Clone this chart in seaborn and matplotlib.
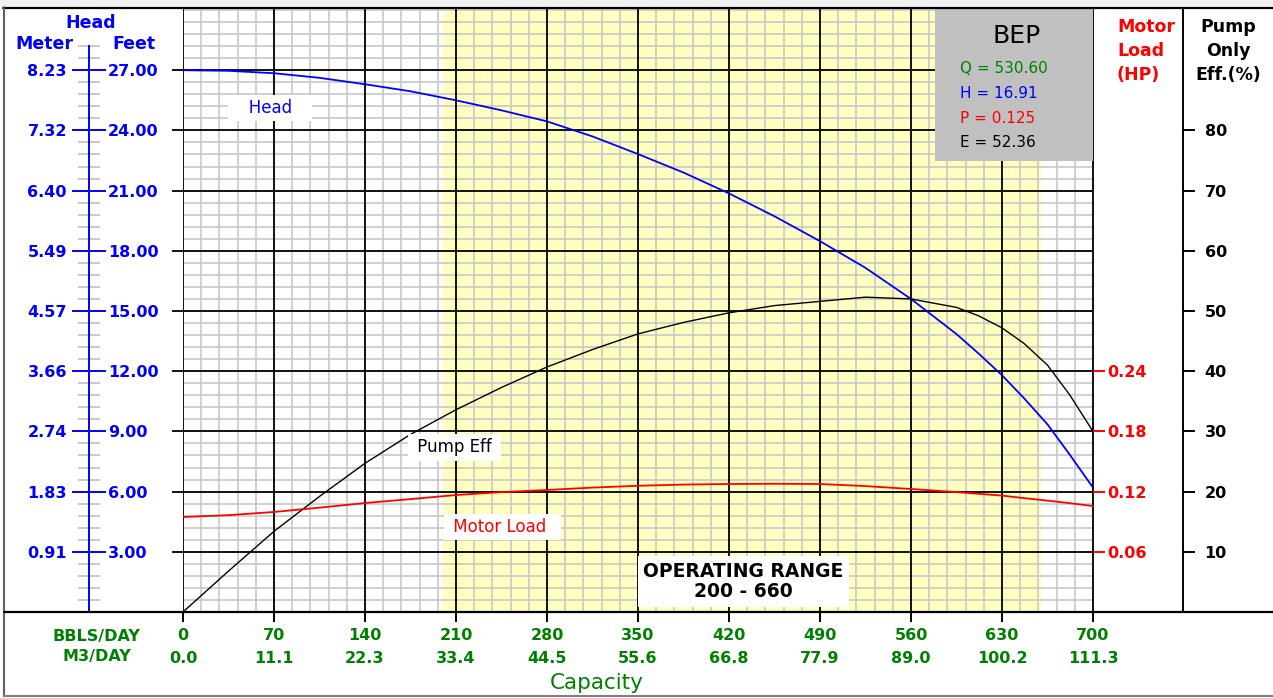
import numpy as np
import matplotlib
matplotlib.use("Agg")
import matplotlib.pyplot as plt
import seaborn as sns
from matplotlib.lines import Line2D
from matplotlib.patches import Rectangle

# ---- pump performance data -------------------------------------------------
capacity_bbl = [0, 35, 70, 105, 140, 175, 210, 245, 280, 315, 350,
                385, 420, 455, 490, 525, 560, 595, 612, 630, 647, 665, 682, 700]
head_ft = [27.0, 26.97, 26.85, 26.62, 26.3, 25.95, 25.5, 25.0, 24.45, 23.7, 22.82,
           21.9, 20.86, 19.72, 18.48, 17.15, 15.6, 13.85, 12.88, 11.8, 10.65, 9.35, 7.85, 6.2]
pump_eff_pct = [0.0, 6.8, 13.4, 19.2, 24.7, 29.5, 33.6, 37.3, 40.7, 43.6, 46.2,
                48.1, 49.7, 50.9, 51.6, 52.3, 52.0, 50.6, 49.2, 47.2, 44.6, 41.0, 36.1, 30.0]
motor_load_hp = [0.0947, 0.0965, 0.0997, 0.104, 0.1086, 0.1125, 0.1166, 0.1195,
                 0.1216, 0.124, 0.1258, 0.127, 0.1276, 0.1278, 0.1276, 0.1255,
                 0.1226, 0.1195, 0.1178, 0.116, 0.1135, 0.111, 0.1085, 0.1056]

# ---- axis ticks and labels -------------------------------------------------
bbl_ticks = [0, 70, 140, 210, 280, 350, 420, 490, 560, 630, 700]
m3_labels = ["0.0", "11.1", "22.3", "33.4", "44.5", "55.6",
             "66.8", "77.9", "89.0", "100.2", "111.3"]
feet_ticks = [3, 6, 9, 12, 15, 18, 21, 24, 27]
feet_labels = ["3.00", "6.00", "9.00", "12.00", "15.00", "18.00", "21.00", "24.00", "27.00"]
meter_labels = ["0.91", "1.83", "2.74", "3.66", "4.57", "5.49", "6.40", "7.32", "8.23"]
load_ticks = [0.06, 0.12, 0.18, 0.24]
load_labels = ["0.06", "0.12", "0.18", "0.24"]
eff_ticks = [10, 20, 30, 40, 50, 60, 70, 80]

# ---- operating range and best efficiency point -----------------------------
range_low, range_high = 200, 660
bep_q, bep_h, bep_p, bep_e = 530.60, 16.91, 0.125, 52.36

# ---- styling ---------------------------------------------------------------
sns.set_theme(style="white")
plt.rcParams["font.family"] = ["DejaVu Sans"]

BLUE, RED, GREEN, BLACK = "#0000ff", "#ff0000", "#008000", "#000000"
MINOR_GRID, MAJOR_GRID = "#c8c8c8", "#111111"

W, H = 1273, 698
fig = plt.figure(figsize=(W / 100, H / 100), dpi=100)
fig.patch.set_facecolor("white")


def fx(px):
    return px / W


def fy(py):
    return 1 - py / H


# plot frame: 0..~769 bbl/day horizontally, 0..30.1 ft vertically
Q_MAX = 1000 / 1.3
FT_MAX = 30.1
ax = fig.add_axes([fx(183), fy(612), 1000 / W, 604 / H])
ax.set_xlim(0, Q_MAX)
ax.set_ylim(0, FT_MAX)
ax.set_facecolor("white")

# operating range band
ax.axvspan(range_low, range_high, color="#ffffc0", lw=0, zorder=0.5)

# grid: light minor lines, dark major lines
q_last = bbl_ticks[-1]
minor_q = np.arange(0, q_last + 1, 14)
minor_ft = np.round(np.arange(0.6, FT_MAX, 0.6), 1)
ax.vlines(minor_q, 0, FT_MAX, colors=MINOR_GRID, lw=1.2, zorder=1)
ax.hlines(minor_ft, 0, q_last, colors=MINOR_GRID, lw=1.2, zorder=1)
ax.vlines(bbl_ticks, 0, FT_MAX, colors=MAJOR_GRID, lw=1.4, zorder=2)
ax.hlines(feet_ticks, -8.5, q_last, colors=MAJOR_GRID, lw=1.4, zorder=2, clip_on=False)

# BEP panel
ax.add_patch(Rectangle((578.5, 22.5), q_last - 578.5, FT_MAX - 22.5,
                       fc="#c0c0c0", ec="none", zorder=3))
ax.text(641.5, 28.7, "BEP", ha="center", va="center", fontsize=18, color=BLACK, zorder=4)
ax.text(597.7, 27.1, f"Q = {bep_q:.2f}", ha="left", va="center", fontsize=11, color=GREEN, zorder=4)
ax.text(597.7, 25.86, f"H = {bep_h:.2f}", ha="left", va="center", fontsize=11, color=BLUE, zorder=4)
ax.text(597.7, 24.61, f"P = {bep_p:.3f}", ha="left", va="center", fontsize=11, color=RED, zorder=4)
ax.text(597.7, 23.42, f"E = {bep_e:.2f}", ha="left", va="center", fontsize=11, color=BLACK, zorder=4)

# head curve (feet)
sns.lineplot(x=capacity_bbl, y=head_ft, ax=ax, color=BLUE, lw=1.3, zorder=5)

# head axis: meters on the left of the spine, feet on the right
for side in ("top", "right", "bottom"):
    ax.spines[side].set_visible(False)
ax.spines["left"].set_position(("axes", -0.094))
ax.spines["left"].set_bounds(0, 28.2)
ax.spines["left"].set_color(BLUE)
ax.spines["left"].set_linewidth(1.4)
ax.set_yticks(feet_ticks)
ax.set_yticklabels(meter_labels, fontweight="bold", fontsize=11.5)
head_minor = [round(0.6 * i, 1) for i in range(1, 48) if i % 5]
ax.set_yticks(head_minor, minor=True)
ax.tick_params(axis="y", which="major", direction="inout", length=24.5, width=1.4,
               color=BLUE, labelcolor=BLUE, pad=3.6, left=True)
ax.tick_params(axis="y", which="minor", direction="inout", length=15.8, width=1.2,
               color="#c0c0c0", left=True)
for v, lab in zip(feet_ticks, feet_labels):
    ax.text(-0.075, v, lab, transform=ax.get_yaxis_transform(), ha="left",
            va="center_baseline", color=BLUE, fontweight="bold", fontsize=11.5)

# capacity axis
ax.set_xticks(bbl_ticks)
ax.set_xticklabels([str(q) for q in bbl_ticks], fontweight="bold", fontsize=11.5)
ax.tick_params(axis="x", direction="out", length=7.2, width=1.4, color=BLACK,
               labelcolor=GREEN, pad=4.5, bottom=True)
for q, lab in zip(bbl_ticks, m3_labels):
    ax.text(q, -0.0745, lab, transform=ax.get_xaxis_transform(), ha="center",
            va="center_baseline", color=GREEN, fontweight="bold", fontsize=11.5)
ax.set_xlabel("")
ax.set_ylabel("")

# pump efficiency (%) on its own scale
ax_eff = ax.twinx()
ax_eff.set_ylim(0, FT_MAX * 10 / 3)
sns.lineplot(x=capacity_bbl, y=pump_eff_pct, ax=ax_eff, color=BLACK, lw=1.0)
for side in ("top", "left", "bottom"):
    ax_eff.spines[side].set_visible(False)
ax_eff.spines["right"].set_color(BLACK)
ax_eff.spines["right"].set_linewidth(1.4)
ax_eff.set_yticks(eff_ticks)
ax_eff.set_yticklabels([str(e) for e in eff_ticks], fontweight="bold", fontsize=11.5)
ax_eff.tick_params(axis="y", direction="out", length=8.6, width=1.4, color=BLACK,
                   labelcolor=BLACK, pad=7, right=True)
ax_eff.set_ylabel("")
ax_eff.set_xlabel("")

# motor load (HP) on its own scale
ax_load = ax.twinx()
ax_load.set_ylim(0, FT_MAX * 0.02)
sns.lineplot(x=capacity_bbl, y=motor_load_hp, ax=ax_load, color=RED, lw=1.3)
for side in ("top", "left", "bottom", "right"):
    ax_load.spines[side].set_visible(False)
ax_load.spines["right"].set_position(("axes", q_last / Q_MAX))
ax_load.set_yticks(load_ticks)
ax_load.set_yticklabels(load_labels, fontweight="bold", fontsize=11.5)
ax_load.tick_params(axis="y", direction="out", length=8.6, width=1.4, color=RED,
                    labelcolor=RED, pad=1.4, right=True)
ax_load.set_ylabel("")
ax_load.set_xlabel("")

# curve labels
box = dict(boxstyle="square,pad=0.25", fc="white", ec="none")
ax_load.text(67, 25.1, "   Head   ", transform=ax.transData, ha="center", va="center",
             fontsize=12, color=BLUE, bbox=box, zorder=10)
ax_load.text(209, 8.2, " Pump Eff ", transform=ax.transData, ha="center", va="center",
             fontsize=12, color=BLACK, bbox=box, zorder=10)
ax_load.text(246, 4.24, " Motor Load  ", transform=ax.transData, ha="center", va="center",
             fontsize=12, color=RED, bbox=box, zorder=10)
ax_load.text((range_low + range_high) / 2 + 1, 1.52,
             f"OPERATING RANGE\n{range_low} - {range_high}", transform=ax.transData,
             ha="center", va="center", fontsize=13.5, fontweight="bold", color=BLACK,
             linespacing=1.1, bbox=dict(boxstyle="square,pad=0.3", fc="white", ec="none"),
             zorder=10)

# axis titles
fig.text(fx(91), fy(23), "Head", ha="center", va="center", color=BLUE, fontweight="bold", fontsize=12.5)
fig.text(fx(44), fy(44), "Meter", ha="center", va="center", color=BLUE, fontweight="bold", fontsize=12.5)
fig.text(fx(134), fy(44), "Feet", ha="center", va="center", color=BLUE, fontweight="bold", fontsize=12.5)
for y, t in zip((27, 51, 75), ("Motor", "Load", "(HP)")):
    fig.text(fx(1117), fy(y), t, ha="left", va="center", color=RED, fontweight="bold", fontsize=12.5)
for y, t in zip((27, 51, 75), ("Pump", "Only", "Eff.(%)")):
    fig.text(fx(1228), fy(y), t, ha="center", va="center", color=BLACK, fontweight="bold", fontsize=12.5)
fig.text(fx(96), fy(637), "BBLS/DAY", ha="center", va="center", color=GREEN, fontweight="bold", fontsize=11.5)
fig.text(fx(97), fy(657), "M3/DAY", ha="center", va="center", color=GREEN, fontweight="bold", fontsize=11.5)
fig.text(fx(597), fy(683), "Capacity", ha="center", va="center", color=GREEN, fontsize=15.5)

# window frame lines
fig.add_artist(Rectangle((0, fy(6)), 1, 6 / H, transform=fig.transFigure,
                         fc="#f0f0f0", ec="none", zorder=0))
fig.add_artist(Line2D([fx(3), 1], [fy(8), fy(8)], color=BLACK, lw=1.6))
fig.add_artist(Line2D([fx(4), fx(4)], [fy(7), fy(696)], color="#606060", lw=1.5))
fig.add_artist(Line2D([fx(4), 1], [fy(696), fy(696)], color="#808080", lw=1.5))
fig.add_artist(Line2D([fx(4), 1], [fy(612), fy(612)], color=BLACK, lw=1.6))

fig.savefig("out.png", dpi=100, facecolor="white")
